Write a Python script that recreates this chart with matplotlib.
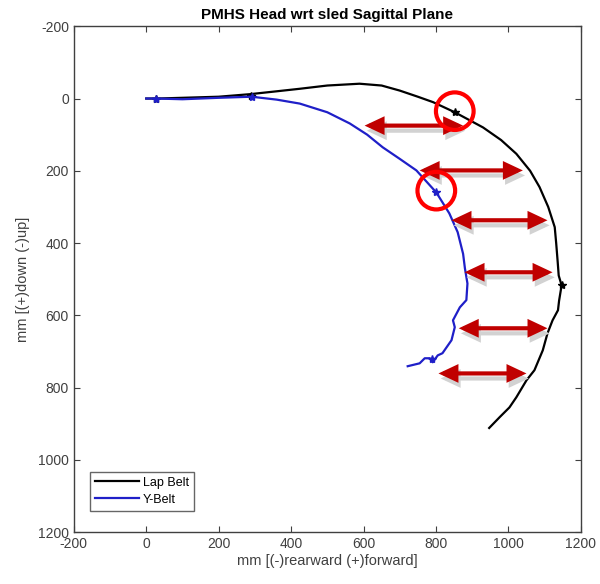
import matplotlib
matplotlib.use("Agg")
import matplotlib.pyplot as plt
from matplotlib.patches import Circle, FancyArrowPatch

plt.rcParams['font.family'] = ['Liberation Sans', 'DejaVu Sans']
plt.rcParams['axes.unicode_minus'] = False

# Lap Belt trajectory (mm)
lap_x = [0, 30, 100, 200, 286, 360, 424, 500, 589, 650, 700, 750, 792, 852, 930, 980,
         1022, 1060, 1086, 1110, 1128, 1132, 1136, 1139, 1147, 1140, 1137, 1122, 1108,
         1095, 1072, 1050, 1022, 1003, 976, 947]
lap_y = [0, 0, -2, -5, -12, -20, -27, -36, -41, -36, -22, -5, 10, 38, 80, 115,
         153, 200, 245, 300, 356, 400, 450, 490, 517, 560, 586, 614, 650,
         697, 752, 780, 827, 855, 882, 912]
lap_mx = [28, 290, 852, 1147]
lap_my = [0, -8, 38, 517]

# Y-Belt trajectory (mm)
yb_x = [0, 28, 100, 200, 291, 360, 424, 500, 562, 610, 653, 700, 746, 801, 837, 860,
        875, 880, 887, 884, 866, 847, 852, 843, 818, 805, 791, 783, 769, 755, 722]
yb_y = [0, 0, 2, -2, -5, 3, 14, 38, 69, 100, 135, 167, 199, 260, 318, 370,
        430, 470, 512, 558, 578, 614, 633, 669, 705, 711, 730, 719, 719, 733, 741]
yb_mx = [28, 291, 801, 788]
yb_my = [0, -5, 260, 722]

# Double arrows (x start, x end, y)
arr_x0 = [603, 755, 843, 879, 863, 807]
arr_x1 = [875, 1040, 1108, 1122, 1108, 1050]
arr_y = [75, 199, 337, 481, 636, 761]

# Highlight circles
circ_x = [852, 801]
circ_y = [35, 255]

fig = plt.figure(figsize=(6.0, 5.84), dpi=100)
ax = fig.add_axes([0.123, 0.089, 0.845, 0.866])

ax.plot(lap_x, lap_y, color='black', lw=1.6, label='Lap Belt', zorder=3)
ax.plot(yb_x, yb_y, color='#1f1fc8', lw=1.6, label='Y-Belt', zorder=4)
ax.plot(lap_mx, lap_my, ls='none', marker='*', color='black', ms=6, zorder=3)
ax.plot(yb_mx, yb_my, ls='none', marker='*', color='#1f1fc8', ms=6, zorder=4)

style = '<|-|>,head_length=0.85,head_width=0.4'
for x0, x1, y in zip(arr_x0, arr_x1, arr_y):
    sh = FancyArrowPatch((x0 + 6, y + 14), (x1 + 6, y + 14), arrowstyle=style,
                         mutation_scale=11, lw=3.0, color='#d2d2d2', zorder=5,
                         capstyle='butt', joinstyle='miter', shrinkA=0, shrinkB=0)
    ax.add_patch(sh)
    a = FancyArrowPatch((x0, y), (x1, y), arrowstyle=style,
                        mutation_scale=11, lw=3.0, color='#c00000', zorder=6,
                        capstyle='butt', joinstyle='miter', shrinkA=0, shrinkB=0)
    ax.add_patch(a)

for cx, cy in zip(circ_x, circ_y):
    ax.add_patch(Circle((cx, cy), 52, fill=False, ec='#ff0000', lw=3, zorder=7))

ax.set_xlim(-200, 1200)
ax.set_ylim(1200, -200)
ax.set_xticks(range(-200, 1201, 200))
ax.set_yticks(range(-200, 1201, 200))
ax.tick_params(direction='in', top=True, right=True, labelsize=10,
               colors='#404040', length=4)
for s in ax.spines.values():
    s.set_color('#404040')
    s.set_linewidth(1.0)

ax.set_title('PMHS Head wrt sled Sagittal Plane', fontsize=11, fontweight='bold', pad=5)
ax.set_xlabel('mm [(-)rearward (+)forward]', fontsize=10.5, color='#404040', labelpad=2)
ax.set_ylabel('mm [(+)down (-)up]', fontsize=10.5, color='#404040', labelpad=6)

leg = ax.legend(loc='lower left', bbox_to_anchor=(0.02, 0.03), fontsize=9,
                frameon=True, fancybox=False, edgecolor='#404040',
                handlelength=3.5, borderpad=0.4, labelspacing=0.4, handletextpad=0.3)
leg.get_frame().set_linewidth(1.0)

fig.savefig('out.png', dpi=100)
